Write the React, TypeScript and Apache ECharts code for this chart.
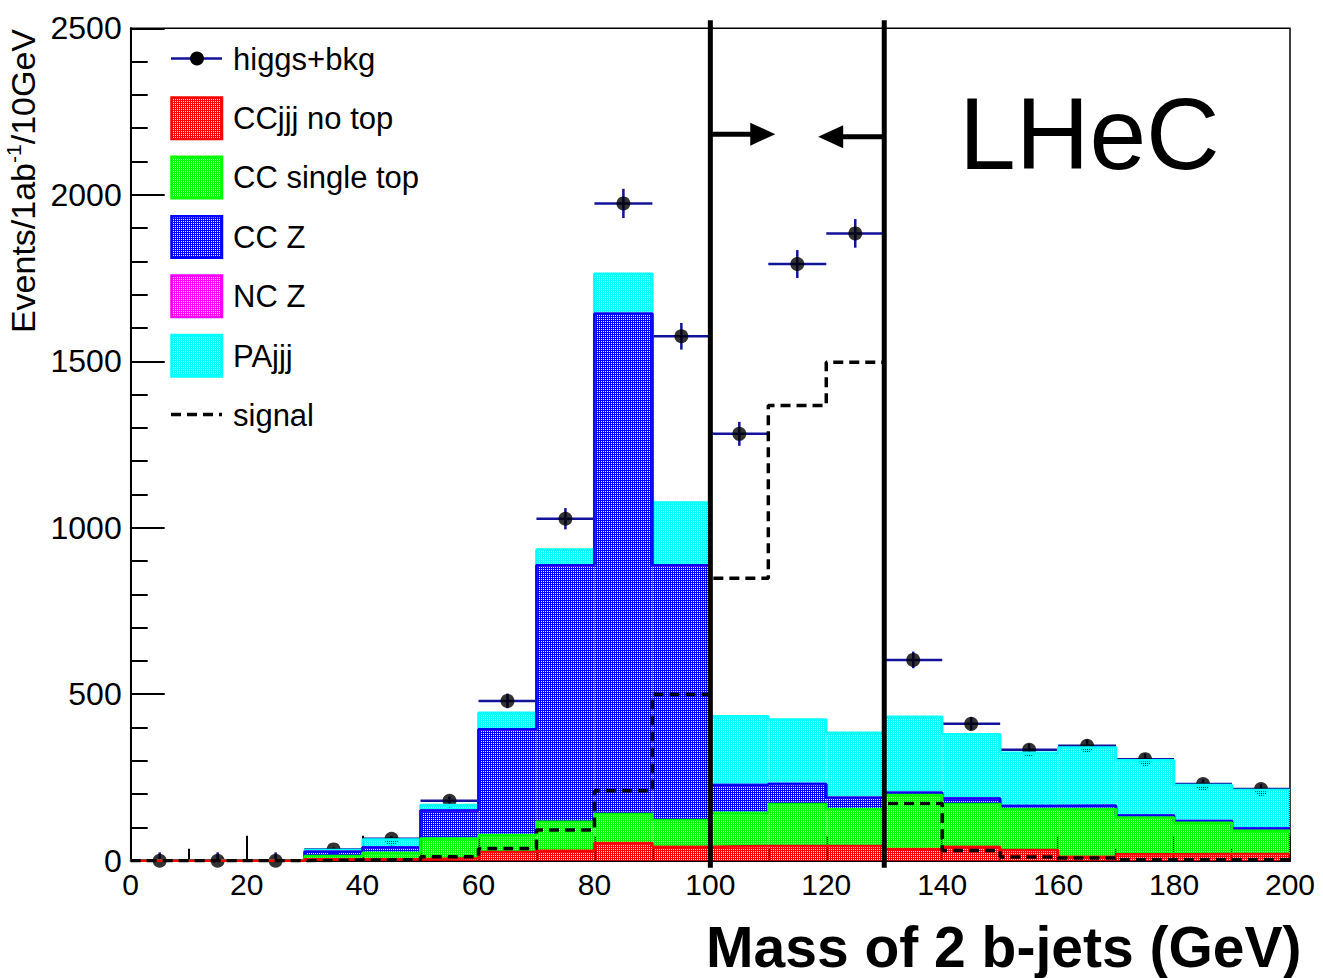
import React, { useEffect, useRef } from "react";
import * as echarts from "echarts";

// Histogram binning: 20 bins of 10 GeV in the di-b-jet mass
const binEdges = [0, 10, 20, 30, 40, 50, 60, 70, 80, 90, 100, 110, 120, 130, 140, 150, 160, 170, 180, 190, 200];
const binCenters = [5, 15, 25, 35, 45, 55, 65, 75, 85, 95, 105, 115, 125, 135, 145, 155, 165, 175, 185, 195];

// Background components (events per bin), stacked bottom to top
const ccjjjNoTop = [0, 0, 0, 4, 5, 7, 26, 30, 53, 42, 44, 44, 44, 35, 42, 32, 12, 19, 20, 20];
const ccSingleTop = [0, 0, 0, 10, 19, 60, 51, 87, 87, 80, 100, 126, 111, 162, 128, 123, 143, 111, 94, 70];
const ccZ = [0, 0, 0, 13, 16, 84, 318, 770, 1503, 765, 83, 60, 34, 7, 17, 9, 10, 6, 5, 7];
const ncZ = [0, 0, 0, 0, 0, 0, 0, 0, 0, 0, 0, 0, 0, 0, 0, 0, 0, 0, 0, 0];
const paJjj = [0, 0, 0, 5, 24, 16, 49, 48, 120, 189, 207, 194, 195, 228, 193, 160, 175, 166, 108, 115];

// Higgs signal alone
const signal = [0, 0, 0, 2, 3, 12, 37, 92, 210, 499, 848, 1367, 1497, 172, 31, 11, 8, 3, 3, 3];

// Pseudo-data: higgs + background, with statistical errors
const higgsBkg = [0, 0, 0, 34, 66, 180, 480, 1027, 1974, 1575, 1282, 1792, 1884, 603, 411, 333, 345, 305, 230, 215];
const higgsBkgErr = [25, 25, 25, 6, 8, 13, 22, 32, 44, 40, 36, 42, 43, 25, 20, 18, 19, 17, 15, 15];

// Mass window cut (GeV) and the arrows pointing into it: [edge, arrow tip, arrow height]
const cutArrows = [
  [100, 111.2, 2182],
  [130, 118.6, 2174],
];

const FONT = "'Liberation Sans', Arial, Helvetica, sans-serif";
const NAVY = "#12129a";

const components = [
  { name: "CCjjj no top", values: ccjjjNoTop, color: "#ff0000" },
  { name: "CC single top", values: ccSingleTop, color: "#00ff00" },
  { name: "CC Z", values: ccZ, color: "#0000ff" },
  { name: "NC Z", values: ncZ, color: "#ff00ff" },
  { name: "PAjjj", values: paJjj, color: "#00ffff" },
];

// ROOT-like hatched fill: a tiny tile with one transparent pixel
function makePattern(color: string) {
  const c = document.createElement("canvas");
  c.width = 2;
  c.height = 2;
  const ctx = c.getContext("2d")!;
  ctx.fillStyle = color;
  ctx.fillRect(0, 0, 2, 1);
  ctx.fillRect(0, 1, 1, 1);
  return { image: c.toDataURL(), repeat: "repeat", imageWidth: 2, imageHeight: 2 } as any;
}

function stepPoints(values: number[]) {
  const pts = values.map((v, i) => [binEdges[i], v]);
  pts.push([binEdges[binEdges.length - 1], values[values.length - 1]]);
  return pts;
}

export default function App() {
  const ref = useRef<HTMLDivElement>(null);

  useEffect(() => {
    if (!ref.current) return;
    const chart = echarts.init(ref.current, null, { renderer: "svg" });

    const patterns = components.map((c) => makePattern(c.color));

    // cumulative tops of the stack
    const cumulative: number[][] = [];
    components.forEach((c, k) => {
      cumulative.push(c.values.map((v, i) => v + (k > 0 ? cumulative[k - 1][i] : 0)));
    });

    const bandRows: number[][] = [];
    components.forEach((c, k) => {
      c.values.forEach((v, i) => {
        if (v <= 0) return;
        const lo = k > 0 ? cumulative[k - 1][i] : 0;
        bandRows.push([binEdges[i], binEdges[i + 1], lo, lo + v, k]);
      });
    });

    const outlineSeries = components
      .map((c, k) => ({
        type: "line",
        name: c.name + " outline",
        data: stepPoints(cumulative[k]),
        step: "end",
        symbol: "none",
        z: 3,
        lineStyle: { color: c.color, width: 2.5 },
        itemStyle: { color: c.color },
      }))
      .reverse();

    const legendRows = [
      { label: "higgs+bkg", kind: "data" },
      ...components.map((c, k) => ({ label: c.name, kind: "box", k })),
      { label: "signal", kind: "dash" },
    ];

    const legendGraphics: any[] = [];
    legendRows.forEach((row: any, r) => {
      const cy = 59 + r * 59.4;
      legendGraphics.push({
        type: "text",
        x: 233,
        y: cy,
        z: 20,
        style: { text: row.label, fontSize: 31, fontFamily: FONT, fill: "#000", verticalAlign: "middle", align: "left" },
      });
      if (row.kind === "data") {
        legendGraphics.push({
          type: "line",
          z: 20,
          shape: { x1: 171, y1: cy - 0.5, x2: 222, y2: cy - 0.5 },
          style: { stroke: NAVY, lineWidth: 2.5 },
        });
        legendGraphics.push({ type: "circle", z: 21, shape: { cx: 197, cy: cy - 0.5, r: 7 }, style: { fill: "#000" } });
      } else if (row.kind === "box") {
        legendGraphics.push({
          type: "rect",
          z: 20,
          shape: { x: 171.5, y: cy - 21, width: 50.5, height: 41.5 },
          style: { fill: patterns[row.k], stroke: components[row.k].color, lineWidth: 2.5 },
        });
      } else {
        legendGraphics.push({
          type: "line",
          z: 20,
          shape: { x1: 171, y1: cy - 1, x2: 222, y2: cy - 1 },
          style: { stroke: "#000", lineWidth: 3.5, lineDash: [10, 6] },
        });
      }
    });

    const option: any = {
      animation: false,
      backgroundColor: "#fff",
      textStyle: { fontFamily: FONT },
      grid: {
        left: 130.7,
        right: 33,
        top: 28.3,
        bottom: 117.3,
        show: true,
        borderColor: "#000",
        borderWidth: 1.5,
      },
      xAxis: {
        type: "value",
        min: 0,
        max: 200,
        interval: 20,
        axisLine: { show: true, onZero: false, lineStyle: { color: "#000", width: 2 } },
        axisTick: { show: true, inside: true, length: 25, lineStyle: { color: "#000", width: 2 } },
        minorTick: { show: true, splitNumber: 2, length: 12, lineStyle: { color: "#000", width: 2 } },
        splitLine: { show: false },
        axisLabel: { color: "#000", fontSize: 30, fontFamily: FONT, margin: 9, formatter: (v: number) => String(v) },
      },
      yAxis: {
        type: "value",
        min: 0,
        max: 2500,
        interval: 500,
        axisLine: { show: true, lineStyle: { color: "#000", width: 2 } },
        axisTick: { show: true, inside: true, length: 34, lineStyle: { color: "#000", width: 2 } },
        minorTick: { show: true, splitNumber: 5, length: 17, lineStyle: { color: "#000", width: 2 } },
        splitLine: { show: false },
        axisLabel: { color: "#000", fontSize: 32, fontFamily: FONT, margin: 9, formatter: (v: number) => String(v) },
      },
      graphic: [
        {
          type: "text",
          x: 23,
          y: 29,
          rotation: Math.PI / 2,
          z: 20,
          style: {
            text: "{a|Events/1ab}{s|-1}{a|/10GeV}",
            rich: {
              a: { fontSize: 34, fontFamily: FONT, fill: "#000", lineHeight: 40 },
              s: { fontSize: 21, fontFamily: FONT, fill: "#000", lineHeight: 20, verticalAlign: "top" },
            },
            align: "right",
            verticalAlign: "middle",
          },
        },
        {
          type: "text",
          x: 706,
          y: 947,
          z: 20,
          style: {
            text: "Mass of 2 b-jets (GeV)",
            fontSize: 57,
            fontWeight: "bold",
            fontFamily: FONT,
            fill: "#000",
            verticalAlign: "middle",
            align: "left",
          },
        },
        {
          type: "text",
          x: 959,
          y: 134,
          z: 20,
          style: {
            text: "LHeC",
            fontSize: 102,
            fontFamily: FONT,
            fill: "#000",
            verticalAlign: "middle",
            align: "left",
          },
        },
        ...legendGraphics,
      ],
      series: [
        {
          type: "custom",
          name: "higgs+bkg errors",
          z: 1,
          clip: false,
          data: binCenters.map((c, i) => [c, higgsBkg[i], higgsBkgErr[i], binEdges[i], binEdges[i + 1]]),
          encode: { x: 0, y: 1 },
          renderItem: (_p: any, api: any) => {
            const c = api.value(0);
            const v = api.value(1);
            const e = api.value(2);
            const l = api.coord([api.value(3), v]);
            const r = api.coord([api.value(4), v]);
            const t = api.coord([c, v + e]);
            const b = api.coord([c, Math.max(0, v - e)]);
            return {
              type: "group",
              children: [
                { type: "line", shape: { x1: l[0], y1: l[1], x2: r[0], y2: r[1] }, style: { stroke: NAVY, lineWidth: 2.5 } },
                { type: "line", shape: { x1: t[0], y1: t[1], x2: b[0], y2: b[1] }, style: { stroke: NAVY, lineWidth: 2.5 } },
              ],
            };
          },
        },
        {
          type: "scatter",
          name: "higgs+bkg",
          z: 1,
          clip: false,
          symbol: "circle",
          symbolSize: 14,
          itemStyle: { color: "#000" },
          data: binCenters.map((c, i) => [c, higgsBkg[i]]),
        },
        {
          type: "custom",
          name: "stack fills",
          z: 2,
          data: bandRows,
          encode: { x: [0, 1], y: [2, 3] },
          renderItem: (_p: any, api: any) => {
            const p0 = api.coord([api.value(0), api.value(3)]);
            const p1 = api.coord([api.value(1), api.value(2)]);
            const k = api.value(4);
            return {
              type: "rect",
              shape: { x: p0[0], y: p0[1], width: p1[0] - p0[0], height: p1[1] - p0[1] },
              style: { fill: patterns[k] },
            };
          },
        },
        ...outlineSeries,
        {
          type: "line",
          name: "signal",
          data: stepPoints(signal),
          step: "end",
          symbol: "none",
          z: 4,
          lineStyle: { color: "#000", width: 3.5, type: [10, 6] },
        },
        {
          type: "custom",
          name: "mass window",
          z: 5,
          clip: false,
          data: cutArrows,
          encode: { x: [0, 1], y: 2 },
          renderItem: (_p: any, api: any) => {
            const x = api.value(0);
            const tip = api.value(1);
            const ay = api.value(2);
            const top = api.coord([x, 2500]);
            const bot = api.coord([x, 0]);
            const a0 = api.coord([x, ay]);
            const a1 = api.coord([tip, ay]);
            const dir = a1[0] > a0[0] ? 1 : -1;
            const headLen = 25;
            const headHalf = 11.5;
            const base = a1[0] - dir * headLen;
            return {
              type: "group",
              children: [
                { type: "line", shape: { x1: top[0], y1: top[1] - 8, x2: bot[0], y2: bot[1] + 7 }, style: { stroke: "#000", lineWidth: 5 } },
                { type: "line", shape: { x1: a0[0], y1: a0[1], x2: base + dir * 2, y2: a1[1] }, style: { stroke: "#000", lineWidth: 5 } },
                {
                  type: "polygon",
                  shape: { points: [[a1[0], a1[1]], [base, a1[1] - headHalf], [base, a1[1] + headHalf]] },
                  style: { fill: "#000" },
                },
              ],
            };
          },
        },
      ],
    };

    chart.setOption(option);
    return () => chart.dispose();
  }, []);

  return (
    <div
      ref={ref}
      style={{ position: "fixed", left: 0, top: 0, width: 1323, height: 978, background: "#fff" }}
    />
  );
}
